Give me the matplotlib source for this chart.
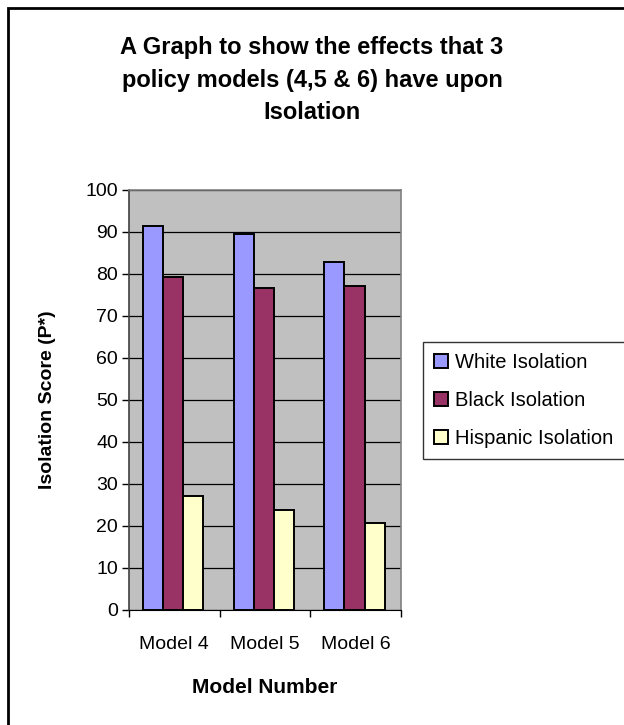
import numpy as np
import matplotlib.pyplot as plt
from matplotlib.patches import Rectangle

plt.rcParams['font.family'] = ['Liberation Sans', 'DejaVu Sans']

models = ["Model 4", "Model 5", "Model 6"]
white_iso = [91.4, 89.5, 82.9]
black_iso = [79.4, 76.7, 77.1]
hispanic_iso = [27.2, 23.8, 20.7]
series_names = ["White Isolation", "Black Isolation", "Hispanic Isolation"]
colours = ["#9999FF", "#993366", "#FFFFCC"]

fig = plt.figure(figsize=(6.24, 7.25), dpi=100)

# chart frame, only top and left edges fall inside the image
fig.patches.append(Rectangle((8/624, -0.5), 2.0, 1.5 - 8/725,
                             transform=fig.transFigure, fill=False,
                             edgecolor="black", linewidth=2.0))

ax = fig.add_axes([129/624, 1 - 610/725, (401 - 129)/624, (610 - 190)/725])
ax.set_facecolor("#C0C0C0")

x = np.arange(len(models))
w = 0.222
offsets = [-0.235, -0.013, 0.209]
for vals, off, col, name in zip([white_iso, black_iso, hispanic_iso], offsets, colours, series_names):
    ax.bar(x + off, vals, width=w, color=col, edgecolor="black", linewidth=1.4,
           label=name, zorder=3)

ax.set_xlim(-0.5, 2.5)
ax.set_ylim(0, 100)
ax.set_yticks(np.arange(0, 101, 10))
ax.yaxis.grid(True, color="black", linewidth=0.9, zorder=1)
ax.tick_params(axis="y", direction="out", length=5, width=1, labelsize=14, pad=3)

ax.set_xticks([-0.5, 0.5, 1.5, 2.5])
ax.set_xticklabels([])
ax.set_xticks(x, minor=True)
ax.set_xticklabels(models, minor=True, fontsize=14)
ax.tick_params(axis="x", which="major", direction="out", length=5, width=1)
ax.tick_params(axis="x", which="minor", length=0, pad=19)

for side in ["top", "right"]:
    ax.spines[side].set_color("#808080")
    ax.spines[side].set_linewidth(1.2)
ax.spines["left"].set_color("#404040")
ax.spines["left"].set_linewidth(1.2)
ax.spines["bottom"].set_color("black")

ax.set_ylabel("Isolation Score (P*)", fontsize=14, fontweight="bold", labelpad=21)
ax.set_xlabel("Model Number", fontsize=15, fontweight="bold", labelpad=18)

fig.text(0.5, 1 - 80/725, "A Graph to show the effects that 3\npolicy models (4,5 & 6) have upon\nIsolation",
         ha="center", va="center", fontsize=17, fontweight="bold", linespacing=1.55)

leg = fig.legend(loc="upper left", bbox_to_anchor=(423/624, 1 - 342/725),
                 fontsize=14.5, frameon=True, fancybox=False, edgecolor="black",
                 handlelength=0.7, handleheight=0.7, handletextpad=0.35,
                 labelspacing=0.95, borderpad=0.55, borderaxespad=0)
leg.get_frame().set_linewidth(1.0)

fig.savefig("out.png", dpi=100)
